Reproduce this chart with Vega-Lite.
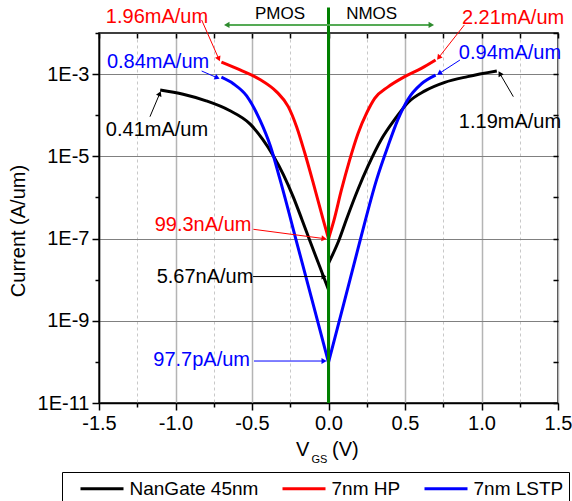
{
  "$schema": "https://vega.github.io/schema/vega-lite/v6.json",
  "width": 459,
  "height": 370,
  "autosize": {"type": "none"},
  "padding": {"left": 99, "top": 33, "right": 14, "bottom": 98},
  "background": "white",
  "config": {
    "font": "Liberation Sans",
    "view": {"stroke": "black", "strokeWidth": 1.5},
    "axis": {
      "labelFont": "Liberation Sans", "labelFontSize": 20, "labelColor": "black",
      "titleFont": "Liberation Sans", "titleFontSize": 20, "titleFontWeight": "normal", "titleColor": "black",
      "domainColor": "black", "domainWidth": 1.5, "tickColor": "black", "tickWidth": 1.5,
      "labelOverlap": false, "labelFlush": false, "labelBound": false
    },
    "legend": {"labelFont": "Liberation Sans"}
  },
  "datasets": {
    "curves": [
      {"series": "NanGate 45nm", "branch": "P", "v": -1.10, "i": 4.1e-4},
      {"series": "NanGate 45nm", "branch": "P", "v": -0.95, "i": 3.24e-4},
      {"series": "NanGate 45nm", "branch": "P", "v": -0.80, "i": 2.24e-4},
      {"series": "NanGate 45nm", "branch": "P", "v": -0.65, "i": 1.32e-4},
      {"series": "NanGate 45nm", "branch": "P", "v": -0.51, "i": 6.0e-5},
      {"series": "NanGate 45nm", "branch": "P", "v": -0.43, "i": 2.57e-5},
      {"series": "NanGate 45nm", "branch": "P", "v": -0.36, "i": 1.02e-5},
      {"series": "NanGate 45nm", "branch": "P", "v": -0.295, "i": 3.6e-6},
      {"series": "NanGate 45nm", "branch": "P", "v": -0.23, "i": 1.02e-6},
      {"series": "NanGate 45nm", "branch": "P", "v": -0.175, "i": 3.0e-7},
      {"series": "NanGate 45nm", "branch": "P", "v": -0.12, "i": 8.5e-8},
      {"series": "NanGate 45nm", "branch": "P", "v": -0.06, "i": 2.2e-8},
      {"series": "NanGate 45nm", "branch": "P", "v": 0.0, "i": 5.67e-9},
      {"series": "NanGate 45nm", "branch": "N", "v": 0.0, "i": 2.5e-8},
      {"series": "NanGate 45nm", "branch": "N", "v": 0.07, "i": 9.5e-8},
      {"series": "NanGate 45nm", "branch": "N", "v": 0.117, "i": 2.9e-7},
      {"series": "NanGate 45nm", "branch": "N", "v": 0.193, "i": 1.58e-6},
      {"series": "NanGate 45nm", "branch": "N", "v": 0.258, "i": 5.75e-6},
      {"series": "NanGate 45nm", "branch": "N", "v": 0.345, "i": 2.57e-5},
      {"series": "NanGate 45nm", "branch": "N", "v": 0.433, "i": 7.9e-5},
      {"series": "NanGate 45nm", "branch": "N", "v": 0.52, "i": 2.04e-4},
      {"series": "NanGate 45nm", "branch": "N", "v": 0.63, "i": 3.9e-4},
      {"series": "NanGate 45nm", "branch": "N", "v": 0.76, "i": 6.3e-4},
      {"series": "NanGate 45nm", "branch": "N", "v": 0.91, "i": 8.7e-4},
      {"series": "NanGate 45nm", "branch": "N", "v": 1.10, "i": 1.19e-3},
      {"series": "7nm HP", "branch": "P", "v": -0.70, "i": 1.96e-3},
      {"series": "7nm HP", "branch": "P", "v": -0.578, "i": 1.26e-3},
      {"series": "7nm HP", "branch": "P", "v": -0.448, "i": 7.4e-4},
      {"series": "7nm HP", "branch": "P", "v": -0.339, "i": 3.7e-4},
      {"series": "7nm HP", "branch": "P", "v": -0.263, "i": 1.62e-4},
      {"series": "7nm HP", "branch": "P", "v": -0.208, "i": 5.2e-5},
      {"series": "7nm HP", "branch": "P", "v": -0.154, "i": 1.17e-5},
      {"series": "7nm HP", "branch": "P", "v": -0.099, "i": 2.2e-6},
      {"series": "7nm HP", "branch": "P", "v": -0.034, "i": 2.8e-7},
      {"series": "7nm HP", "branch": "P", "v": 0.0, "i": 9.93e-8},
      {"series": "7nm HP", "branch": "N", "v": 0.0, "i": 9.93e-8},
      {"series": "7nm HP", "branch": "N", "v": 0.036, "i": 2.8e-7},
      {"series": "7nm HP", "branch": "N", "v": 0.084, "i": 1.5e-6},
      {"series": "7nm HP", "branch": "N", "v": 0.138, "i": 8.1e-6},
      {"series": "7nm HP", "branch": "N", "v": 0.193, "i": 3.6e-5},
      {"series": "7nm HP", "branch": "N", "v": 0.249, "i": 1.12e-4},
      {"series": "7nm HP", "branch": "N", "v": 0.302, "i": 2.57e-4},
      {"series": "7nm HP", "branch": "N", "v": 0.389, "i": 4.9e-4},
      {"series": "7nm HP", "branch": "N", "v": 0.498, "i": 8.7e-4},
      {"series": "7nm HP", "branch": "N", "v": 0.607, "i": 1.38e-3},
      {"series": "7nm HP", "branch": "N", "v": 0.70, "i": 2.21e-3},
      {"series": "7nm LSTP", "branch": "P", "v": -0.70, "i": 8.4e-4},
      {"series": "7nm LSTP", "branch": "P", "v": -0.62, "i": 5.75e-4},
      {"series": "7nm LSTP", "branch": "P", "v": -0.535, "i": 2.95e-4},
      {"series": "7nm LSTP", "branch": "P", "v": -0.45, "i": 7.9e-5},
      {"series": "7nm LSTP", "branch": "P", "v": -0.38, "i": 1.78e-5},
      {"series": "7nm LSTP", "branch": "P", "v": -0.317, "i": 2.75e-6},
      {"series": "7nm LSTP", "branch": "P", "v": -0.2, "i": 6.3e-8},
      {"series": "7nm LSTP", "branch": "P", "v": -0.1, "i": 2.5e-9},
      {"series": "7nm LSTP", "branch": "P", "v": 0.0, "i": 9.77e-11},
      {"series": "7nm LSTP", "branch": "N", "v": 0.0, "i": 9.77e-11},
      {"series": "7nm LSTP", "branch": "N", "v": 0.1, "i": 2.6e-9},
      {"series": "7nm LSTP", "branch": "N", "v": 0.2, "i": 7.2e-8},
      {"series": "7nm LSTP", "branch": "N", "v": 0.315, "i": 2.75e-6},
      {"series": "7nm LSTP", "branch": "N", "v": 0.389, "i": 1.78e-5},
      {"series": "7nm LSTP", "branch": "N", "v": 0.454, "i": 7.9e-5},
      {"series": "7nm LSTP", "branch": "N", "v": 0.52, "i": 2.45e-4},
      {"series": "7nm LSTP", "branch": "N", "v": 0.607, "i": 5.75e-4},
      {"series": "7nm LSTP", "branch": "N", "v": 0.70, "i": 9.4e-4}
    ],
    "arrows": [
      {"id": 1, "series": "7nm HP", "x": -0.829, "y": 2.07e-2, "x2": -0.717, "y2": 2.34e-3},
      {"id": 2, "series": "7nm LSTP", "x": -0.829, "y": 1.19e-3, "x2": -0.727, "y2": 8.13e-4},
      {"id": 3, "series": "NanGate 45nm", "x": -1.167, "y": 9.2e-5, "x2": -1.103, "y2": 3.37e-4},
      {"id": 4, "series": "7nm HP", "x": 0.888, "y": 1.57e-2, "x2": 0.720, "y2": 2.52e-3},
      {"id": 5, "series": "7nm LSTP", "x": 0.859, "y": 2.2e-3, "x2": 0.724, "y2": 1.04e-3},
      {"id": 6, "series": "NanGate 45nm", "x": 1.208, "y": 2.83e-4, "x2": 1.120, "y2": 1.03e-3},
      {"id": 7, "series": "7nm HP", "x": -0.491, "y": 1.68e-7, "x2": -0.029, "y2": 9.97e-8},
      {"id": 8, "series": "NanGate 45nm", "x": -0.493, "y": 1.19e-8, "x2": -0.029, "y2": 1.19e-8},
      {"id": 9, "series": "7nm LSTP", "x": -0.487, "y": 1.05e-10, "x2": -0.029, "y2": 1.05e-10}
    ],
    "labels": [
      {"text": "1.96mA/um", "series": "7nm HP", "x": -1.121, "y": 2.45e-2},
      {"text": "0.84mA/um", "series": "7nm LSTP", "x": -1.114, "y": 1.97e-3},
      {"text": "0.41mA/um", "series": "NanGate 45nm", "x": -1.121, "y": 4.37e-5},
      {"text": "2.21mA/um", "series": "7nm HP", "x": 1.206, "y": 2.32e-2},
      {"text": "0.94mA/um", "series": "7nm LSTP", "x": 1.186, "y": 3.26e-3},
      {"text": "1.19mA/um", "series": "NanGate 45nm", "x": 1.186, "y": 6.95e-5},
      {"text": "99.3nA/um", "series": "7nm HP", "x": -0.820, "y": 2.14e-7},
      {"text": "5.67nA/um", "series": "NanGate 45nm", "x": -0.807, "y": 1.18e-8},
      {"text": "97.7pA/um", "series": "7nm LSTP", "x": -0.829, "y": 1.11e-10}
    ],
    "regions": [
      {"side": "PMOS", "x0": 0, "x1": -0.665, "y": 1.57e-2, "tx": -0.317, "ty": 2.9e-2},
      {"side": "NMOS", "x0": 0, "x1": 0.672, "y": 1.57e-2, "tx": 0.282, "ty": 2.9e-2}
    ],
    "xtitle": [
      {"t": "V", "x": -0.212, "y": 7.19e-13},
      {"t": "(V)", "x": 0.023, "y": 7.19e-13}
    ],
    "xsub": [
      {"t": "GS", "x": -0.111, "y": 4.1e-13}
    ]
  },
  "layer": [
    {
      "data": {"name": "curves"},
      "mark": {"type": "line", "strokeWidth": 3, "interpolate": "monotone"},
      "encoding": {
        "x": {
          "field": "v", "type": "quantitative",
          "scale": {"domain": [-1.5, 1.5], "nice": false, "zero": false},
          "axis": {
            "orient": "bottom", "title": null,
            "values": [-1.5, -1.25, -1.0, -0.75, -0.5, -0.25, 0, 0.25, 0.5, 0.75, 1.0, 1.25, 1.5],
            "labelExpr": "abs(datum.value*2 - round(datum.value*2)) < 0.01 ? (datum.value < 0 ? '-' : '') + format(abs(datum.value), '.1f') : ''",
            "labelPadding": 3,
            "tickSize": {"condition": {"test": "abs(datum.value*2 - round(datum.value*2)) < 0.01", "value": 7}, "value": 4},
            "grid": true,
            "gridColor": {"condition": {"test": "abs(datum.value*2 - round(datum.value*2)) < 0.01", "value": "#b4b4b4"}, "value": "#c8c8c8"},
            "gridWidth": {"condition": {"test": "abs(datum.value*2 - round(datum.value*2)) < 0.01", "value": 1.5}, "value": 1},
            "gridDash": {"condition": {"test": "abs(datum.value*2 - round(datum.value*2)) < 0.01", "value": []}, "value": [3, 3]}
          }
        },
        "y": {
          "field": "i", "type": "quantitative",
          "scale": {"type": "log", "domain": [1e-11, 1e-2], "nice": false},
          "axis": {
            "orient": "left",
            "title": "Current (A/um)",
            "titleX": -81, "titleY": 197.5, "titleAngle": 270, "titleBaseline": "middle", "titleAlign": "center",
            "values": [1e-11, 1e-10, 1e-9, 1e-8, 1e-7, 1e-6, 1e-5, 1e-4, 1e-3, 1e-2],
            "labelExpr": "abs(round(log(datum.value)/LN10)) % 2 == 1 ? '1E' + round(log(datum.value)/LN10) : ''",
            "labelPadding": 3,
            "tickSize": {"condition": {"test": "abs(round(log(datum.value)/LN10)) % 2 == 1", "value": 7}, "value": 4},
            "grid": true,
            "gridColor": "#808080",
            "gridWidth": 1,
            "gridOpacity": {"condition": {"test": "abs(round(log(datum.value)/LN10)) % 2 == 1", "value": 1}, "value": 0}
          }
        },
        "detail": {"field": "branch"},
        "color": {
          "field": "series", "type": "nominal",
          "scale": {"domain": ["NanGate 45nm", "7nm HP", "7nm LSTP"], "range": ["#000000", "#ff0000", "#0000ff"]},
          "legend": {
            "title": " ", "titleOrient": "left", "titleFontSize": 2, "titlePadding": 12,
            "orient": "none", "legendX": -37, "legendY": 439,
            "direction": "horizontal", "columns": 3,
            "strokeColor": "black", "fillColor": "white", "padding": 5, "cornerRadius": 0,
            "symbolType": "M-2.15,0H2.15", "symbolSize": 400, "symbolStrokeWidth": 3, "symbolOffset": 11.5,
            "labelFontSize": 19, "labelColor": "black", "labelOffset": 16, "columnPadding": 17,
            "labelLimit": 300
          }
        }
      }
    },
    {
      "data": {"values": [{"v": 0, "lo": 1e-11, "hi": 0.0417}]},
      "mark": {"type": "rule", "color": "#008000", "strokeWidth": 3},
      "encoding": {
        "x": {
          "field": "v", "type": "quantitative",
          "axis": {
            "orient": "top", "title": null, "labels": false, "grid": false, "domain": false,
            "values": [-1.5, -1.25, -1.0, -0.75, -0.5, -0.25, 0, 0.25, 0.5, 0.75, 1.0, 1.25, 1.5],
            "tickSize": -5
          }
        },
        "y": {
          "field": "lo", "type": "quantitative", "scale": {"type": "log"},
          "axis": {
            "orient": "right", "title": null, "labels": false, "grid": false, "domain": false,
            "values": [1e-11, 1e-10, 1e-9, 1e-8, 1e-7, 1e-6, 1e-5, 1e-4, 1e-3, 1e-2],
            "tickSize": -5
          }
        },
        "y2": {"field": "hi"}
      }
    },
    {
      "data": {"name": "regions"},
      "mark": {"type": "rule", "color": "#55aa55", "strokeWidth": 2},
      "encoding": {
        "x": {"field": "x0", "type": "quantitative", "axis": null},
        "x2": {"field": "x1"},
        "y": {"field": "y", "type": "quantitative", "scale": {"type": "log"}, "axis": null}
      }
    },
    {
      "data": {"name": "regions"},
      "mark": {"type": "point", "filled": true, "opacity": 1, "size": 40, "color": "#2e8b2e", "strokeWidth": 0},
      "encoding": {
        "x": {"field": "x1", "type": "quantitative", "axis": null},
        "y": {"field": "y", "type": "quantitative", "scale": {"type": "log"}, "axis": null},
        "shape": {"field": "side", "type": "nominal", "scale": {"domain": ["PMOS", "NMOS"], "range": ["triangle-left", "triangle-right"]}, "legend": null}
      }
    },
    {
      "data": {"name": "regions"},
      "mark": {"type": "text", "fontSize": 17, "color": "black", "align": "center", "baseline": "middle"},
      "encoding": {
        "x": {"field": "tx", "type": "quantitative", "axis": null},
        "y": {"field": "ty", "type": "quantitative", "scale": {"type": "log"}, "axis": null},
        "text": {"field": "side"}
      }
    },
    {
      "data": {"name": "arrows"},
      "mark": {"type": "rule", "strokeWidth": 1},
      "encoding": {
        "x": {"field": "x", "type": "quantitative", "axis": null},
        "y": {"field": "y", "type": "quantitative", "scale": {"type": "log"}, "axis": null},
        "x2": {"field": "x2"},
        "y2": {"field": "y2"},
        "color": {"field": "series", "type": "nominal", "legend": null}
      }
    },
    {
      "data": {"name": "arrows"}, "transform": [{"filter": "datum.id == 1"}],
      "mark": {"type": "point", "shape": "triangle-right", "angle": 66, "filled": true, "opacity": 1, "size": 35, "strokeWidth": 0},
      "encoding": {
        "x": {"field": "x2", "type": "quantitative", "axis": null},
        "y": {"field": "y2", "type": "quantitative", "scale": {"type": "log"}, "axis": null},
        "color": {"field": "series", "type": "nominal", "legend": null}
      }
    },
    {
      "data": {"name": "arrows"}, "transform": [{"filter": "datum.id == 2"}],
      "mark": {"type": "point", "shape": "triangle-right", "angle": 24, "filled": true, "opacity": 1, "size": 35, "strokeWidth": 0},
      "encoding": {
        "x": {"field": "x2", "type": "quantitative", "axis": null},
        "y": {"field": "y2", "type": "quantitative", "scale": {"type": "log"}, "axis": null},
        "color": {"field": "series", "type": "nominal", "legend": null}
      }
    },
    {
      "data": {"name": "arrows"}, "transform": [{"filter": "datum.id == 3"}],
      "mark": {"type": "point", "shape": "triangle-right", "angle": 293, "filled": true, "opacity": 1, "size": 35, "strokeWidth": 0},
      "encoding": {
        "x": {"field": "x2", "type": "quantitative", "axis": null},
        "y": {"field": "y2", "type": "quantitative", "scale": {"type": "log"}, "axis": null},
        "color": {"field": "series", "type": "nominal", "legend": null}
      }
    },
    {
      "data": {"name": "arrows"}, "transform": [{"filter": "datum.id == 4"}],
      "mark": {"type": "point", "shape": "triangle-right", "angle": 128, "filled": true, "opacity": 1, "size": 35, "strokeWidth": 0},
      "encoding": {
        "x": {"field": "x2", "type": "quantitative", "axis": null},
        "y": {"field": "y2", "type": "quantitative", "scale": {"type": "log"}, "axis": null},
        "color": {"field": "series", "type": "nominal", "legend": null}
      }
    },
    {
      "data": {"name": "arrows"}, "transform": [{"filter": "datum.id == 5"}],
      "mark": {"type": "point", "shape": "triangle-right", "angle": 147, "filled": true, "opacity": 1, "size": 35, "strokeWidth": 0},
      "encoding": {
        "x": {"field": "x2", "type": "quantitative", "axis": null},
        "y": {"field": "y2", "type": "quantitative", "scale": {"type": "log"}, "axis": null},
        "color": {"field": "series", "type": "nominal", "legend": null}
      }
    },
    {
      "data": {"name": "arrows"}, "transform": [{"filter": "datum.id == 6"}],
      "mark": {"type": "point", "shape": "triangle-right", "angle": 240, "filled": true, "opacity": 1, "size": 35, "strokeWidth": 0},
      "encoding": {
        "x": {"field": "x2", "type": "quantitative", "axis": null},
        "y": {"field": "y2", "type": "quantitative", "scale": {"type": "log"}, "axis": null},
        "color": {"field": "series", "type": "nominal", "legend": null}
      }
    },
    {
      "data": {"name": "arrows"}, "transform": [{"filter": "datum.id == 7"}],
      "mark": {"type": "point", "shape": "triangle-right", "angle": 7, "filled": true, "opacity": 1, "size": 35, "strokeWidth": 0},
      "encoding": {
        "x": {"field": "x2", "type": "quantitative", "axis": null},
        "y": {"field": "y2", "type": "quantitative", "scale": {"type": "log"}, "axis": null},
        "color": {"field": "series", "type": "nominal", "legend": null}
      }
    },
    {
      "data": {"name": "arrows"}, "transform": [{"filter": "datum.id >= 8"}],
      "mark": {"type": "point", "shape": "triangle-right", "angle": 0, "filled": true, "opacity": 1, "size": 35, "strokeWidth": 0},
      "encoding": {
        "x": {"field": "x2", "type": "quantitative", "axis": null},
        "y": {"field": "y2", "type": "quantitative", "scale": {"type": "log"}, "axis": null},
        "color": {"field": "series", "type": "nominal", "legend": null}
      }
    },
    {
      "data": {"name": "labels"},
      "mark": {"type": "text", "fontSize": 20, "align": "center", "baseline": "middle"},
      "encoding": {
        "x": {"field": "x", "type": "quantitative", "axis": null},
        "y": {"field": "y", "type": "quantitative", "scale": {"type": "log"}, "axis": null},
        "text": {"field": "text"},
        "color": {"field": "series", "type": "nominal", "legend": null}
      }
    },
    {
      "data": {"name": "xtitle"},
      "mark": {"type": "text", "fontSize": 20, "align": "left", "baseline": "middle", "color": "black"},
      "encoding": {
        "x": {"field": "x", "type": "quantitative", "axis": null},
        "y": {"field": "y", "type": "quantitative", "scale": {"type": "log"}, "axis": null},
        "text": {"field": "t"}
      }
    },
    {
      "data": {"name": "xsub"},
      "mark": {"type": "text", "fontSize": 11, "align": "left", "baseline": "middle", "color": "black"},
      "encoding": {
        "x": {"field": "x", "type": "quantitative", "axis": null},
        "y": {"field": "y", "type": "quantitative", "scale": {"type": "log"}, "axis": null},
        "text": {"field": "t"}
      }
    }
  ],
  "resolve": {"axis": {"x": "independent", "y": "independent"}}
}
